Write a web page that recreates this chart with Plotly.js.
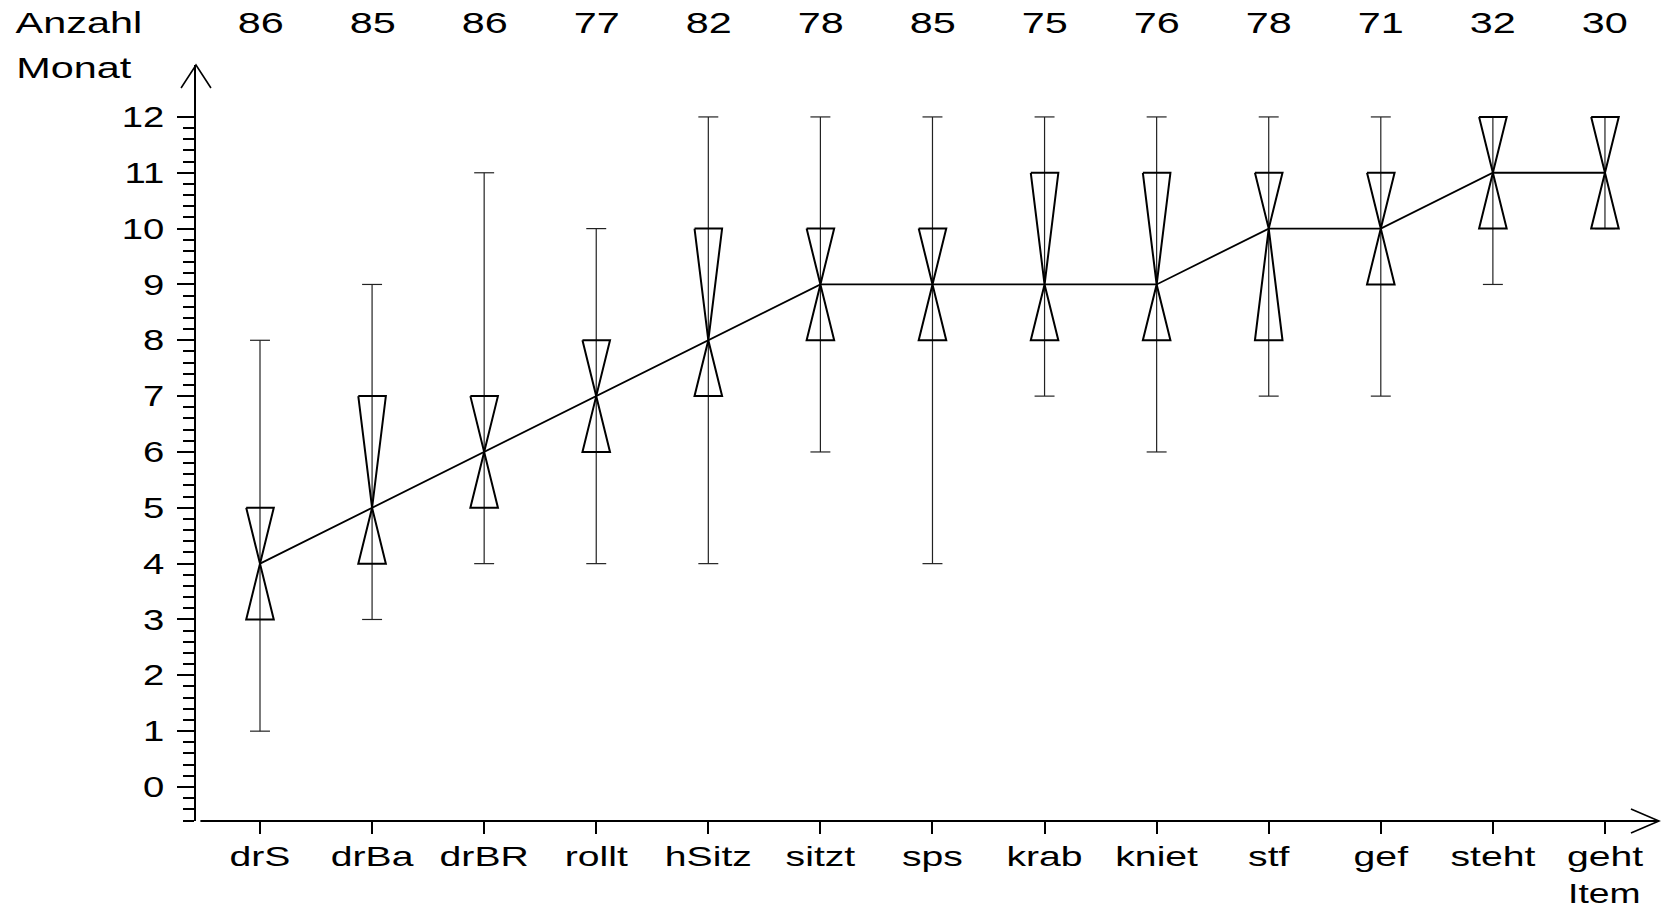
<!DOCTYPE html>
<html>
<head>
<meta charset="utf-8">
<script src="https://cdn.plot.ly/plotly-3.0.1.min.js"></script>
<style>html,body{margin:0;padding:0;background:#fff;}#chart{width:1661px;height:909px;}</style>
</head>
<body>
<div id="chart"></div>
<script>
const items = ['drS','drBa','drBR','rollt','hSitz','sitzt','sps','krab','kniet','stf','gef','steht','geht'];
const counts = [86,85,86,77,82,78,85,75,76,78,71,32,30];
const mins = [1,3,4,4,4,6,4,7,6,7,7,9,10];
const q1s  = [3,4,5,6,7,8,8,8,8,8,9,10,10];
const meds = [4,5,6,7,8,9,9,9,9,10,10,11,11];
const q3s  = [5,7,7,8,10,10,10,11,11,11,11,12,12];
const maxs = [8,9,11,10,12,12,12,12,12,12,12,12,12];
const yTicks = [0,1,2,3,4,5,6,7,8,9,10,11,12];

const FONT = 'Liberation Sans, Arial, sans-serif';
const BW = 0.123;   // half box width (x units)
const CW = 0.089;   // half cap width

const idx = items.map((_, i) => i);

// whiskers
const wx = [], wy = [];
idx.forEach(i => { wx.push(i, i, null); wy.push(mins[i], maxs[i], null); });
// caps
const cx = [], cy = [];
idx.forEach(i => {
  cx.push(i - CW, i + CW, null); cy.push(mins[i], mins[i], null);
  cx.push(i - CW, i + CW, null); cy.push(maxs[i], maxs[i], null);
});
// bow-tie boxes
const bx = [], by = [];
idx.forEach(i => {
  bx.push(i - BW, i + BW, i, i - BW, i + BW, i, i - BW, null);
  by.push(q3s[i], q3s[i], meds[i], q1s[i], q1s[i], meds[i], q3s[i], null);
});

const traces = [
  {x: wx, y: wy, mode: 'lines', line: {color: '#222', width: 1.2}, hoverinfo: 'skip', showlegend: false},
  {x: cx, y: cy, mode: 'lines', line: {color: '#222', width: 1.2}, hoverinfo: 'skip', showlegend: false},
  {x: bx, y: by, mode: 'lines', line: {color: '#000', width: 2}, hoverinfo: 'skip', showlegend: false},
  {x: idx, y: meds, mode: 'lines', line: {color: '#000', width: 1.8}, hoverinfo: 'skip', showlegend: false}
];

const minorVals = [];
for (let k = -3; k <= 60; k++) { if (k % 5 !== 0) minorVals.push(k / 5); }

const annotations = idx.map(i => ({
  x: i, xref: 'x', y: 1.0562, yref: 'paper', text: String(counts[i]), showarrow: false,
  xanchor: 'center', yanchor: 'middle', font: {family: FONT, size: 30, color: '#000'}
}));
annotations.push(
  {x: -0.0799, xref: 'paper', y: 1.0562, yref: 'paper', text: 'Anzahl', showarrow: false,
   xanchor: 'center', yanchor: 'middle', font: {family: FONT, size: 30, color: '#000'}},
  {x: -0.0836, xref: 'paper', y: 0.997, yref: 'paper', text: 'Monat', showarrow: false,
   xanchor: 'center', yanchor: 'middle', font: {family: FONT, size: 30, color: '#000'}},
  {x: 12, xref: 'x', y: -0.0966, yref: 'paper', text: 'Item', showarrow: false,
   xanchor: 'center', yanchor: 'middle', font: {family: FONT, size: 27, color: '#000'}}
);

const shapes = [
  {type: 'line', xref: 'paper', yref: 'paper', x0: 0.003, x1: 0.9986, y0: 0, y1: 0, line: {color: '#000', width: 2}},
  {type: 'path', xref: 'paper', yref: 'paper', path: 'M -0.0102 0.9696 L 0 1 L 0.0102 0.9696', line: {color: '#000', width: 1.6}},
  {type: 'path', xref: 'paper', yref: 'paper', path: 'M 0.9795 0.0159 L 0.9986 0 L 0.9795 -0.0159', line: {color: '#000', width: 1.6}}
];

const layout = {
  width: 1661, height: 909, autosize: false,
  margin: {l: 196, r: 0, t: 65, b: 88},
  paper_bgcolor: '#fff', plot_bgcolor: '#fff',
  font: {family: FONT, color: '#000'},
  showlegend: false,
  xaxis: {
    range: [-0.571, 12.5], showgrid: false, zeroline: false, showline: false,
    tickmode: 'array', tickvals: idx, ticktext: items,
    ticks: 'outside', ticklen: 12, tickwidth: 2, tickcolor: '#000',
    tickangle: 0,
    tickfont: {family: FONT, size: 27, color: '#000'}, fixedrange: true
  },
  yaxis: {
    range: [-0.609, 12.93], showgrid: false, zeroline: false,
    showline: true, linecolor: '#000', linewidth: 2,
    tickmode: 'array', tickvals: yTicks, ticktext: yTicks.map(String),
    ticks: 'outside', ticklen: 17, tickwidth: 2, tickcolor: '#000',
    ticklabelstandoff: 7,
    tickfont: {family: FONT, size: 29, color: '#000'},
    minor: {tickmode: 'array', tickvals: minorVals, ticks: 'outside', ticklen: 11, tickwidth: 2, tickcolor: '#000', showgrid: false},
    fixedrange: true
  },
  annotations: annotations,
  shapes: shapes
};

// the reference lettering is horizontally wide; stretch each text about its anchor
function stretchText(selector, s) {
  document.querySelectorAll(selector).forEach(t => {
    const x = parseFloat(t.getAttribute('x')) || 0;
    const tr = t.getAttribute('transform') || '';
    t.setAttribute('transform', (tr + ' translate(' + x + ',0) scale(' + s + ',1) translate(' + (-x) + ',0)').trim());
  });
}

Plotly.newPlot('chart', traces, layout, {displayModeBar: false, staticPlot: true}).then(() => {
  stretchText('.xtick text', 1.45);
  stretchText('.ytick text', 1.32);
  stretchText('.annotation-text', 1.38);
});
</script>
</body>
</html>
